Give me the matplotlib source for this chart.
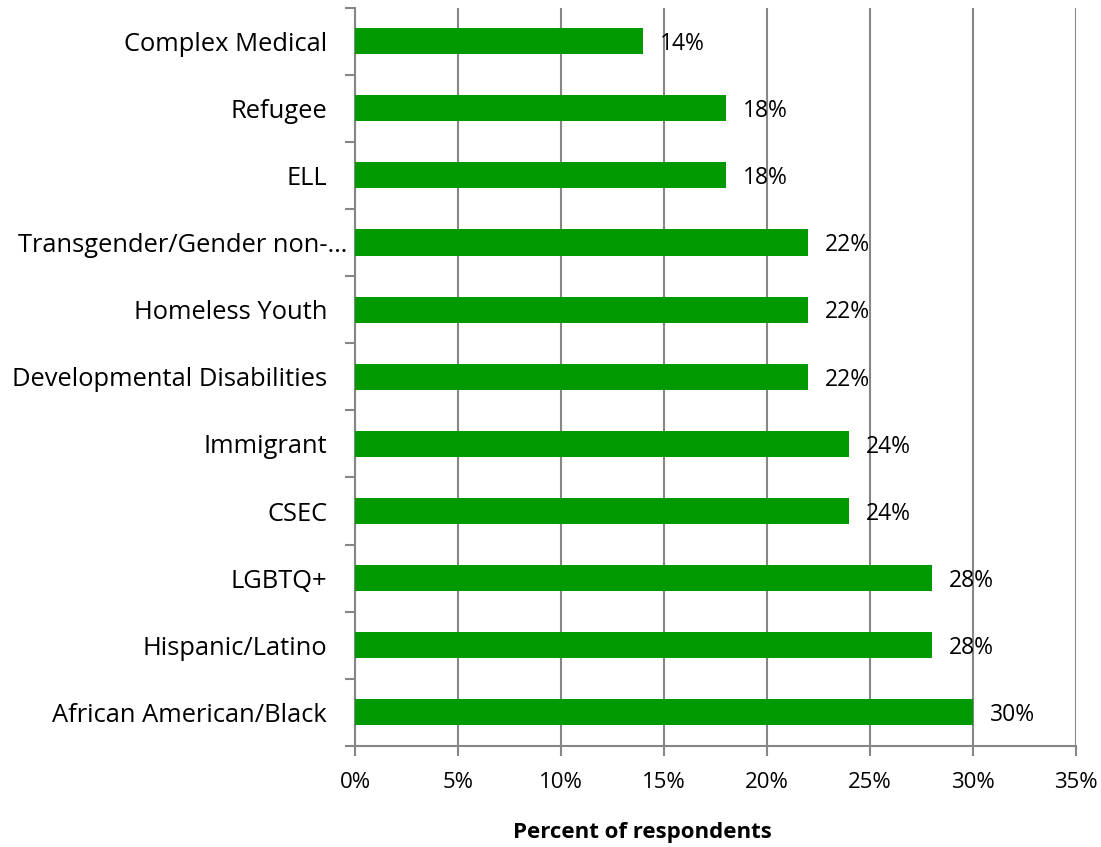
import matplotlib
matplotlib.use('Agg')
import matplotlib.pyplot as plt
import matplotlib.transforms as mtransforms
import numpy as np

plt.rcParams['font.family'] = ['Open Sans', 'DejaVu Sans']

# Data (top to bottom as shown)
categories = ['Complex Medical', 'Refugee', 'ELL', 'Transgender/Gender non-…',
              'Homeless Youth', 'Developmental Disabilities', 'Immigrant', 'CSEC',
              'LGBTQ+', 'Hispanic/Latino', 'African American/Black']
values = [14, 18, 18, 22, 22, 22, 24, 24, 28, 28, 30]
x_ticks = [0, 5, 10, 15, 20, 25, 30, 35]

bar_color = '#009900'
grid_color = '#868686'

fig = plt.figure(figsize=(11.01, 8.47), dpi=100)
ax = fig.add_axes([0.3224, 0.1193, 0.6549, 0.8718])

# bottom category first so top of list is at top
cats = categories[::-1]
vals = values[::-1]
y = np.arange(len(cats))
ax.barh(y, vals, height=0.39, color=bar_color, zorder=3)

for yi, v in zip(y, vals):
    ax.annotate(f'{v}%', xy=(v, yi), xytext=(12, -2), textcoords='offset points',
                va='center', ha='left', fontsize=16.5, color='black', zorder=4)

ax.set_xlim(0, 35)
ax.set_ylim(-0.5, len(cats) - 0.5)

ax.set_xticks(x_ticks)
ax.set_xticklabels([f'{t}%' for t in x_ticks], fontsize=16)
ax.xaxis.grid(True, color=grid_color, linewidth=1.5, zorder=0)

# category labels centered, tick marks at boundaries
ax.set_yticks(y)
ax.set_yticklabels(cats, fontsize=18.4)
ax.tick_params(axis='y', which='major', length=0, pad=20)
ax.set_yticks(np.arange(len(cats) + 1) - 0.5, minor=True)
ax.tick_params(axis='y', which='minor', length=7, width=1.5, color=grid_color)
ax.tick_params(axis='x', length=7, width=1.5, color=grid_color, pad=12)

# the truncated label pokes out past the others, like in the original
for lbl in ax.get_yticklabels():
    if lbl.get_text().endswith('…'):
        shift = mtransforms.ScaledTranslation(0.2, 0, fig.dpi_scale_trans)
        lbl.set_transform(lbl.get_transform() + shift)

for s in ['top', 'right']:
    ax.spines[s].set_visible(False)
for s in ['left', 'bottom']:
    ax.spines[s].set_color(grid_color)
    ax.spines[s].set_linewidth(1.5)

fig.text(642 / 1101, 1 - 832 / 847, 'Percent of respondents', ha='center', va='center',
         fontsize=16, fontweight='bold')

fig.savefig('out.png', dpi=100)
plt.close(fig)
